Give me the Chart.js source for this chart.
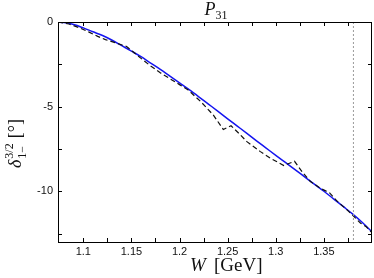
<!DOCTYPE html>
<html lang="en">

<head>
    <meta charset="UTF-8">
    <title>P31</title>
    <script src="https://cdn.jsdelivr.net/npm/chart.js"></script>
    <style>
        body { margin: 0; background: #fff; }
    </style>
</head>

<body>
    <canvas id="chartP31" width="374" height="278"></canvas>

    <script>
        // blue curve (fit)
        const wFit = [1.0737, 1.08, 1.09, 1.10, 1.11, 1.12, 1.13, 1.14, 1.15, 1.16, 1.17, 1.18, 1.19, 1.20,
            1.21, 1.22, 1.23, 1.24, 1.25, 1.26, 1.27, 1.28, 1.29, 1.30, 1.31, 1.32, 1.33, 1.34, 1.35,
            1.36, 1.37, 1.38, 1.39, 1.40];
        const deltaFit = [0, -0.03, -0.15, -0.35, -0.58, -0.8, -1.08, -1.4, -1.72, -2.05, -2.43, -2.8, -3.2, -3.6,
            -4.0, -4.42, -4.85, -5.28, -5.72, -6.15, -6.58, -7.02, -7.45, -7.88, -8.3, -8.72, -9.15, -9.58, -10.0,
            -10.45, -10.9, -11.35, -11.85, -12.4];

        // dashed curve (partial wave analysis)
        const wPwa = [1.0737, 1.085, 1.095, 1.106, 1.115, 1.123, 1.133, 1.145, 1.151, 1.16, 1.17, 1.18, 1.19,
            1.2, 1.209, 1.222, 1.235, 1.2455, 1.2535, 1.262, 1.27, 1.284, 1.2945, 1.3083, 1.3195, 1.328, 1.3361,
            1.3466, 1.356, 1.364, 1.375, 1.3882, 1.394, 1.4];
        const deltaPwa = [0, -0.12, -0.32, -0.6, -0.85, -1.04, -1.22, -1.45, -1.73, -2.15, -2.6, -3.0, -3.35,
            -3.7, -4.02, -4.7, -5.49, -6.35, -6.13, -6.6, -7.07, -7.66, -8.05, -8.48, -8.23, -8.9, -9.43,
            -9.83, -10.1, -10.6, -11.15, -11.89, -12.1, -12.45];

        const wMark = 1.3807;

        const xTicks = [1.1, 1.125, 1.15, 1.175, 1.2, 1.225, 1.25, 1.275, 1.3, 1.325, 1.35, 1.375];
        const xLabels = ['1.1', '', '1.15', '', '1.2', '', '1.25', '', '1.3', '', '1.35', ''];
        const yTicks = [0, -2.5, -5, -7.5, -10, -12.5];
        const yLabels = ['0', '', '-5', '', '-10', ''];

        const toPoints = (xs, ys) => xs.map((x, i) => ({ x: x, y: ys[i] }));

        // frame, inward ticks and the latex-like labels
        const decor = {
            id: 'decor',
            afterDraw(chart) {
                const ctx = chart.ctx;
                const a = chart.chartArea;
                const xs = chart.scales.x;
                const ys = chart.scales.y;
                ctx.save();
                ctx.strokeStyle = '#000';
                ctx.lineWidth = 1;
                ctx.beginPath();
                xTicks.forEach(v => {
                    const px = Math.round(xs.getPixelForValue(v)) + 0.5;
                    ctx.moveTo(px, a.bottom); ctx.lineTo(px, a.bottom - 4);
                    ctx.moveTo(px, a.top); ctx.lineTo(px, a.top + 4);
                });
                yTicks.forEach(v => {
                    const py = Math.round(ys.getPixelForValue(v)) + 0.5;
                    ctx.moveTo(a.left, py); ctx.lineTo(a.left + 4, py);
                    ctx.moveTo(a.right, py); ctx.lineTo(a.right - 4, py);
                });
                ctx.stroke();
                ctx.strokeRect(Math.round(a.left) + 0.5, Math.round(a.top) + 0.5,
                    Math.round(a.right - a.left) - 1, Math.round(a.bottom - a.top));

                ctx.fillStyle = '#111';
                ctx.textBaseline = 'alphabetic';
                ctx.textAlign = 'left';

                // title P_31
                const big = 'italic 18px "Liberation Serif"';
                const small = '12px "Liberation Serif"';
                ctx.font = big;
                const wP = ctx.measureText('P').width;
                ctx.font = small;
                const w31 = ctx.measureText('31').width;
                let tx = 216 - (wP + w31) / 2;
                ctx.font = big;
                ctx.fillText('P', tx, 15);
                ctx.font = small;
                ctx.fillText('31', tx + wP, 19);

                // x title
                ctx.font = 'italic 19px "Liberation Serif"';
                ctx.fillText('W', 190, 271);
                ctx.font = '19px "Liberation Serif"';
                ctx.fillText('[GeV]', 214, 271);

                // y title, rotated
                ctx.translate(21, 168);
                ctx.rotate(-Math.PI / 2);
                ctx.font = 'italic 18px "Liberation Serif"';
                ctx.fillText('δ', 0, 0);
                const wd = ctx.measureText('δ').width;
                ctx.font = '12px "Liberation Serif"';
                ctx.fillText('3/2', wd + 1, -8);
                ctx.fillText('1−', wd + 1, 5);
                const ws = Math.max(ctx.measureText('3/2').width, ctx.measureText('1−').width);
                ctx.font = '18px "Liberation Serif"';
                ctx.fillText('[°]', wd + ws + 6, 0);
                ctx.restore();
            }
        };

        new Chart(document.getElementById('chartP31'), {
            type: 'line',
            data: {
                datasets: [{
                    data: toPoints([wMark, wMark], [0, -13]),
                    borderColor: '#9a9a9a',
                    borderWidth: 1,
                    borderDash: [2, 2],
                    pointRadius: 0
                }, {
                    data: toPoints(wPwa, deltaPwa),
                    borderColor: '#111',
                    borderWidth: 1.2,
                    borderDash: [5, 3],
                    pointRadius: 0,
                    tension: 0
                }, {
                    data: toPoints(wFit, deltaFit),
                    borderColor: '#1414f0',
                    borderWidth: 1.5,
                    pointRadius: 0,
                    cubicInterpolationMode: 'monotone'
                }]
            },
            options: {
                responsive: false,
                animation: false,
                devicePixelRatio: 1,
                layout: { padding: { top: 22, right: 2, left: 0, bottom: 0 } },
                plugins: {
                    legend: { display: false },
                    tooltip: { enabled: false }
                },
                scales: {
                    x: {
                        type: 'linear',
                        min: 1.0737,
                        max: 1.4,
                        afterFit: s => { s.height = 36; },
                        afterBuildTicks: s => { s.ticks = xTicks.map(v => ({ value: v })); },
                        grid: { display: false, drawTicks: false },
                        border: { display: false },
                        ticks: {
                            padding: 3,
                            color: '#111',
                            font: { family: 'Liberation Sans', size: 11 },
                            maxRotation: 0,
                            autoSkip: false,
                            callback: (v, i) => xLabels[i]
                        }
                    },
                    y: {
                        min: -13,
                        max: 0,
                        afterFit: s => { s.width = 58; },
                        afterBuildTicks: s => { s.ticks = yTicks.map(v => ({ value: v })); },
                        grid: { display: false, drawTicks: false },
                        border: { display: false },
                        ticks: {
                            padding: 5,
                            color: '#111',
                            font: { family: 'Liberation Sans', size: 11 },
                            autoSkip: false,
                            callback: (v, i) => yLabels[i]
                        }
                    }
                }
            },
            plugins: [decor]
        });
    </script>

</body>

</html>
